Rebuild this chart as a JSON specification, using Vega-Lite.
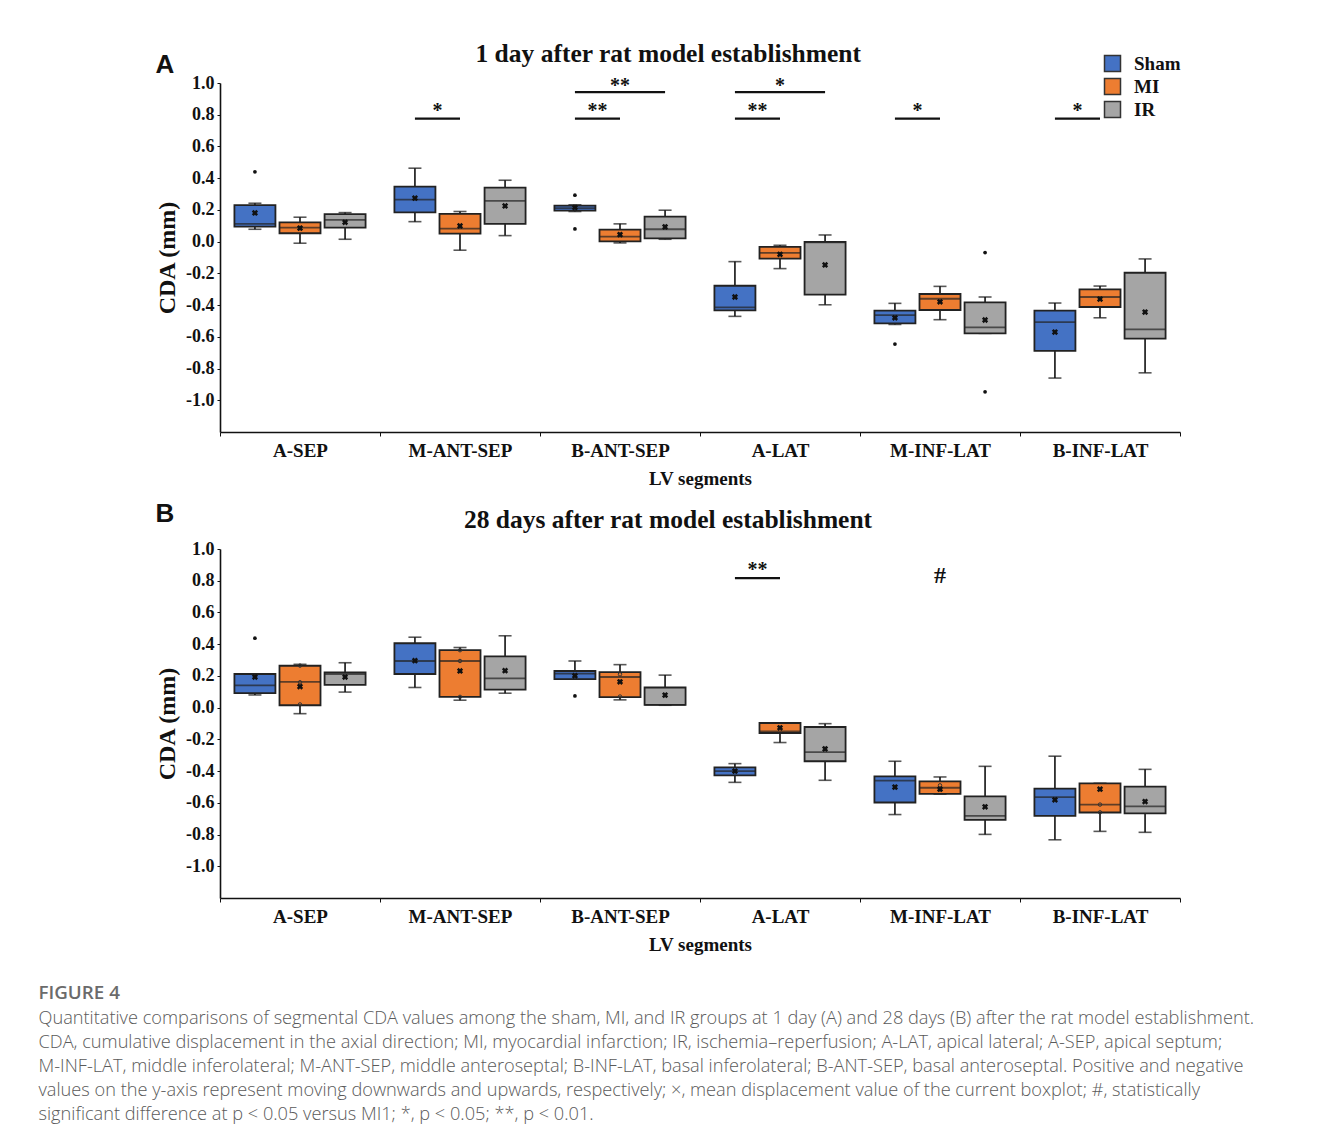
{
  "$schema": "https://vega.github.io/schema/vega-lite/v6.json",
  "background": "white",
  "padding": {"left": 38, "top": 41, "right": 5, "bottom": 5},
  "config": {
    "view": {"stroke": null},
    "axis": {"grid": false},
    "axisY": {"domainColor": "#111", "domainWidth": 1.6, "tickColor": "#111", "tickSize": 3, "labelFont": "Liberation Serif", "labelFontWeight": "bold", "labelFontSize": 18, "labelColor": "#111", "labelPadding": 3, "titleFont": "Liberation Serif", "titleFontWeight": "bold", "titleFontSize": 24, "titleColor": "#111", "titlePadding": 6},
    "axisX": {"tickBand": "extent", "labelAngle": 0, "domainColor": "#111", "domainWidth": 1.6, "tickColor": "#111", "tickSize": 4, "labelFont": "Liberation Serif", "labelFontWeight": "bold", "labelFontSize": 19, "labelColor": "#111", "labelPadding": 5, "titleFont": "Liberation Serif", "titleFontWeight": "bold", "titleFontSize": 19, "titleColor": "#111", "titlePadding": 9}
  },
  "title": {
    "text": "FIGURE 4",
    "subtitle": [
      "Quantitative comparisons of segmental CDA values among the sham, MI, and IR groups at 1 day (A) and 28 days (B) after the rat model establishment.",
      "CDA, cumulative displacement in the axial direction; MI, myocardial infarction; IR, ischemia–reperfusion; A-LAT, apical lateral; A-SEP, apical septum;",
      "M-INF-LAT, middle inferolateral; M-ANT-SEP, middle anteroseptal; B-INF-LAT, basal inferolateral; B-ANT-SEP, basal anteroseptal. Positive and negative",
      "values on the y-axis represent moving downwards and upwards, respectively; ×, mean displacement value of the current boxplot; #, statistically",
      "significant difference at p < 0.05 versus MI1; *, p < 0.05; **, p < 0.01."
    ],
    "orient": "bottom",
    "anchor": "start",
    "frame": "bounds",
    "dx": -117,
    "offset": 30,
    "font": "Open Sans",
    "fontSize": 18.8,
    "fontWeight": 600,
    "color": "#6b6b6b",
    "subtitleFont": "Open Sans",
    "subtitleFontSize": 18.2,
    "subtitleFontWeight": 300,
    "subtitleColor": "#5a5a5a",
    "subtitleLineHeight": 24,
    "subtitlePadding": 7
  },
  "datasets": {
    "boxes": [
      {"p":"A","seg":"A-SEP","g":"Sham","lo":0.078,"q1":0.095,"med":0.112,"q3":0.23,"hi":0.242,"mean":0.181},
      {"p":"A","seg":"A-SEP","g":"MI","lo":-0.01,"q1":0.053,"med":0.088,"q3":0.122,"hi":0.154,"mean":0.085},
      {"p":"A","seg":"A-SEP","g":"IR","lo":0.015,"q1":0.088,"med":0.137,"q3":0.173,"hi":0.183,"mean":0.122},
      {"p":"A","seg":"M-ANT-SEP","g":"Sham","lo":0.126,"q1":0.185,"med":0.265,"q3":0.347,"hi":0.463,"mean":0.274},
      {"p":"A","seg":"M-ANT-SEP","g":"MI","lo":-0.054,"q1":0.05,"med":0.082,"q3":0.175,"hi":0.19,"mean":0.099},
      {"p":"A","seg":"M-ANT-SEP","g":"IR","lo":0.038,"q1":0.112,"med":0.257,"q3":0.341,"hi":0.387,"mean":0.225},
      {"p":"A","seg":"B-ANT-SEP","g":"Sham","lo":0.19,"q1":0.196,"med":0.211,"q3":0.227,"hi":0.232,"mean":0.215},
      {"p":"A","seg":"B-ANT-SEP","g":"MI","lo":-0.008,"q1":0.002,"med":0.032,"q3":0.076,"hi":0.112,"mean":0.044},
      {"p":"A","seg":"B-ANT-SEP","g":"IR","lo":0.015,"q1":0.021,"med":0.078,"q3":0.158,"hi":0.198,"mean":0.093},
      {"p":"A","seg":"A-LAT","g":"Sham","lo":-0.471,"q1":-0.433,"med":-0.414,"q3":-0.278,"hi":-0.126,"mean":-0.349},
      {"p":"A","seg":"A-LAT","g":"MI","lo":-0.17,"q1":-0.107,"med":-0.071,"q3":-0.033,"hi":-0.023,"mean":-0.08},
      {"p":"A","seg":"A-LAT","g":"IR","lo":-0.398,"q1":-0.334,"med":-0.005,"q3":-0.002,"hi":0.042,"mean":-0.147},
      {"p":"A","seg":"M-INF-LAT","g":"Sham","lo":-0.522,"q1":-0.515,"med":-0.463,"q3":-0.435,"hi":-0.389,"mean":-0.48},
      {"p":"A","seg":"M-INF-LAT","g":"MI","lo":-0.492,"q1":-0.431,"med":-0.36,"q3":-0.33,"hi":-0.282,"mean":-0.379},
      {"p":"A","seg":"M-INF-LAT","g":"IR","lo":-0.578,"q1":-0.578,"med":-0.54,"q3":-0.383,"hi":-0.349,"mean":-0.494},
      {"p":"A","seg":"B-INF-LAT","g":"Sham","lo":-0.86,"q1":-0.688,"med":-0.507,"q3":-0.435,"hi":-0.387,"mean":-0.57},
      {"p":"A","seg":"B-INF-LAT","g":"MI","lo":-0.48,"q1":-0.412,"med":-0.349,"q3":-0.301,"hi":-0.28,"mean":-0.362},
      {"p":"A","seg":"B-INF-LAT","g":"IR","lo":-0.827,"q1":-0.612,"med":-0.553,"q3":-0.196,"hi":-0.109,"mean":-0.444},
      {"p":"B","seg":"A-SEP","g":"Sham","lo":0.08,"q1":0.091,"med":0.14,"q3":0.212,"hi":0.212,"mean":0.193},
      {"p":"B","seg":"A-SEP","g":"MI","lo":-0.038,"q1":0.015,"med":0.163,"q3":0.264,"hi":0.273,"mean":0.133},
      {"p":"B","seg":"A-SEP","g":"IR","lo":0.098,"q1":0.144,"med":0.212,"q3":0.222,"hi":0.283,"mean":0.193},
      {"p":"B","seg":"M-ANT-SEP","g":"Sham","lo":0.127,"q1":0.212,"med":0.294,"q3":0.406,"hi":0.444,"mean":0.296},
      {"p":"B","seg":"M-ANT-SEP","g":"MI","lo":0.047,"q1":0.068,"med":0.294,"q3":0.362,"hi":0.379,"mean":0.231},
      {"p":"B","seg":"M-ANT-SEP","g":"IR","lo":0.091,"q1":0.114,"med":0.184,"q3":0.323,"hi":0.453,"mean":0.233},
      {"p":"B","seg":"B-ANT-SEP","g":"Sham","lo":0.18,"q1":0.18,"med":0.214,"q3":0.231,"hi":0.294,"mean":0.201},
      {"p":"B","seg":"B-ANT-SEP","g":"MI","lo":0.049,"q1":0.066,"med":0.193,"q3":0.224,"hi":0.271,"mean":0.163},
      {"p":"B","seg":"B-ANT-SEP","g":"IR","lo":0.015,"q1":0.017,"med":0.017,"q3":0.127,"hi":0.205,"mean":0.079},
      {"p":"B","seg":"A-LAT","g":"Sham","lo":-0.471,"q1":-0.427,"med":-0.4,"q3":-0.376,"hi":-0.353,"mean":-0.4},
      {"p":"B","seg":"A-LAT","g":"MI","lo":-0.22,"q1":-0.16,"med":-0.15,"q3":-0.097,"hi":-0.097,"mean":-0.127},
      {"p":"B","seg":"A-LAT","g":"IR","lo":-0.458,"q1":-0.338,"med":-0.281,"q3":-0.122,"hi":-0.101,"mean":-0.26},
      {"p":"B","seg":"M-INF-LAT","g":"Sham","lo":-0.674,"q1":-0.598,"med":-0.46,"q3":-0.433,"hi":-0.338,"mean":-0.501},
      {"p":"B","seg":"M-INF-LAT","g":"MI","lo":-0.545,"q1":-0.543,"med":-0.505,"q3":-0.465,"hi":-0.437,"mean":-0.514},
      {"p":"B","seg":"M-INF-LAT","g":"IR","lo":-0.799,"q1":-0.708,"med":-0.682,"q3":-0.56,"hi":-0.37,"mean":-0.625},
      {"p":"B","seg":"B-INF-LAT","g":"Sham","lo":-0.833,"q1":-0.682,"med":-0.564,"q3":-0.511,"hi":-0.306,"mean":-0.581},
      {"p":"B","seg":"B-INF-LAT","g":"MI","lo":-0.78,"q1":-0.661,"med":-0.611,"q3":-0.477,"hi":-0.477,"mean":-0.514},
      {"p":"B","seg":"B-INF-LAT","g":"IR","lo":-0.786,"q1":-0.666,"med":-0.623,"q3":-0.498,"hi":-0.389,"mean":-0.592}
    ],
    "pts": [
      {"p":"A","seg":"A-SEP","g":"Sham","k":"out","v":0.44},
      {"p":"A","seg":"B-ANT-SEP","g":"Sham","k":"out","v":0.293},
      {"p":"A","seg":"B-ANT-SEP","g":"Sham","k":"out","v":0.08},
      {"p":"A","seg":"M-INF-LAT","g":"Sham","k":"out","v":-0.646},
      {"p":"A","seg":"M-INF-LAT","g":"IR","k":"out","v":-0.069},
      {"p":"A","seg":"M-INF-LAT","g":"IR","k":"out","v":-0.947},
      {"p":"B","seg":"A-SEP","g":"Sham","k":"out","v":0.438},
      {"p":"B","seg":"B-ANT-SEP","g":"Sham","k":"out","v":0.074},
      {"p":"B","seg":"A-SEP","g":"MI","k":"in","v":0.265},
      {"p":"B","seg":"A-SEP","g":"MI","k":"in","v":0.16},
      {"p":"B","seg":"A-SEP","g":"MI","k":"in","v":0.02},
      {"p":"B","seg":"M-ANT-SEP","g":"MI","k":"in","v":0.362},
      {"p":"B","seg":"M-ANT-SEP","g":"MI","k":"in","v":0.294},
      {"p":"B","seg":"M-ANT-SEP","g":"MI","k":"in","v":0.068},
      {"p":"B","seg":"B-ANT-SEP","g":"MI","k":"in","v":0.21},
      {"p":"B","seg":"B-ANT-SEP","g":"MI","k":"in","v":0.07},
      {"p":"B","seg":"M-INF-LAT","g":"MI","k":"in","v":-0.49},
      {"p":"B","seg":"M-INF-LAT","g":"MI","k":"in","v":-0.515},
      {"p":"B","seg":"B-INF-LAT","g":"MI","k":"in","v":-0.611},
      {"p":"B","seg":"B-INF-LAT","g":"MI","k":"in","v":-0.66}
    ],
    "sigl": [
      {"p":"A","id":"a1","seg":"M-ANT-SEP","g":"Sham","lv":0.775},
      {"p":"A","id":"a1","seg":"M-ANT-SEP","g":"MI","lv":0.775},
      {"p":"A","id":"a2","seg":"B-ANT-SEP","g":"Sham","lv":0.775},
      {"p":"A","id":"a2","seg":"B-ANT-SEP","g":"MI","lv":0.775},
      {"p":"A","id":"a3","seg":"B-ANT-SEP","g":"Sham","lv":0.943},
      {"p":"A","id":"a3","seg":"B-ANT-SEP","g":"IR","lv":0.943},
      {"p":"A","id":"a4","seg":"A-LAT","g":"Sham","lv":0.775},
      {"p":"A","id":"a4","seg":"A-LAT","g":"MI","lv":0.775},
      {"p":"A","id":"a5","seg":"A-LAT","g":"Sham","lv":0.943},
      {"p":"A","id":"a5","seg":"A-LAT","g":"IR","lv":0.943},
      {"p":"A","id":"a6","seg":"M-INF-LAT","g":"Sham","lv":0.775},
      {"p":"A","id":"a6","seg":"M-INF-LAT","g":"MI","lv":0.775},
      {"p":"A","id":"a7","seg":"B-INF-LAT","g":"Sham","lv":0.775},
      {"p":"A","id":"a7","seg":"B-INF-LAT","g":"MI","lv":0.775},
      {"p":"B","id":"b1","seg":"A-LAT","g":"Sham","lv":0.816},
      {"p":"B","id":"b1","seg":"A-LAT","g":"MI","lv":0.816}
    ],
    "sigt": [
      {"p":"A","seg":"M-ANT-SEP","g":"Sham","span":"narrow","lv":0.775,"lab":"*"},
      {"p":"A","seg":"B-ANT-SEP","g":"Sham","span":"narrow","lv":0.775,"lab":"**"},
      {"p":"A","seg":"A-LAT","g":"Sham","span":"narrow","lv":0.775,"lab":"**"},
      {"p":"A","seg":"M-INF-LAT","g":"Sham","span":"narrow","lv":0.775,"lab":"*"},
      {"p":"A","seg":"B-INF-LAT","g":"Sham","span":"narrow","lv":0.775,"lab":"*"},
      {"p":"A","seg":"B-ANT-SEP","g":"MI","span":"wide","lv":0.943,"lab":"**"},
      {"p":"A","seg":"A-LAT","g":"MI","span":"wide","lv":0.943,"lab":"*"},
      {"p":"B","seg":"A-LAT","g":"Sham","span":"narrow","lv":0.816,"lab":"**"},
      {"p":"B","seg":"M-INF-LAT","g":"MI","span":"wide","lv":0.77,"lab":"#"}
    ]
  },
  "resolve": {"scale": {"fill": "independent"}, "legend": {"fill": "independent"}},
  "spacing": 12,
  "vconcat": [
    {
      "title": {"text": "A", "anchor": "start", "frame": "bounds", "font": "Liberation Sans", "fontSize": 26, "fontWeight": "bold", "color": "#111", "offset": -36},
      "resolve": {"scale": {"fill": "independent"}, "legend": {"fill": "independent"}},
      "vconcat": [
        {
          "width": 960,
          "height": 349,
          "title": {"text": "1 day after rat model establishment", "font": "Liberation Serif", "fontSize": 25.5, "fontWeight": "bold", "color": "#111", "anchor": "middle", "frame": "bounds", "offset": -13},
          "encoding": {
            "x": {"field": "seg", "type": "nominal", "sort": ["A-SEP","M-ANT-SEP","B-ANT-SEP","A-LAT","M-INF-LAT","B-INF-LAT"], "scale": {"paddingInner": 0, "paddingOuter": 0}, "axis": {"title": "LV segments"}},
            "xOffset": {"field": "g", "type": "nominal", "sort": ["Sham","MI","IR"], "scale": {"paddingInner": 0.09, "paddingOuter": 0.32}}
          },
          "layer": [
            {"data": {"name": "boxes"}, "transform": [{"filter": "datum.p == 'A'"}],
             "mark": {"type": "rule", "color": "#111", "strokeWidth": 1.6},
             "encoding": {
               "y": {"field": "lo", "type": "quantitative", "scale": {"domain": [-1.2, 1.0], "nice": false, "zero": false}, "axis": {"title": "CDA (mm)", "values": [-1, -0.8, -0.6, -0.4, -0.2, 0, 0.2, 0.4, 0.6, 0.8, 1], "format": ".1f", "labelExpr": "replace(datum.label, '\u2212', '-')"}},
               "y2": {"field": "hi"}
             }},
            {"data": {"name": "boxes"}, "transform": [{"filter": "datum.p == 'A'"}],
             "mark": {"type": "tick", "color": "#111", "size": 13, "thickness": 1.6},
             "encoding": {"y": {"field": "lo", "type": "quantitative", "scale": {"domain": [-1.2, 1.0], "nice": false, "zero": false}, "axis": {"title": "CDA (mm)", "values": [-1, -0.8, -0.6, -0.4, -0.2, 0, 0.2, 0.4, 0.6, 0.8, 1], "format": ".1f", "labelExpr": "replace(datum.label, '\u2212', '-')"}}}},
            {"data": {"name": "boxes"}, "transform": [{"filter": "datum.p == 'A'"}],
             "mark": {"type": "tick", "color": "#111", "size": 13, "thickness": 1.6},
             "encoding": {"y": {"field": "hi", "type": "quantitative", "scale": {"domain": [-1.2, 1.0], "nice": false, "zero": false}, "axis": {"title": "CDA (mm)", "values": [-1, -0.8, -0.6, -0.4, -0.2, 0, 0.2, 0.4, 0.6, 0.8, 1], "format": ".1f", "labelExpr": "replace(datum.label, '\u2212', '-')"}}}},
            {"data": {"name": "boxes"}, "transform": [{"filter": "datum.p == 'A'"}],
             "mark": {"type": "bar", "stroke": "#222", "strokeWidth": 1.8},
             "encoding": {
               "y": {"field": "q1", "type": "quantitative", "scale": {"domain": [-1.2, 1.0], "nice": false, "zero": false}, "axis": {"title": "CDA (mm)", "values": [-1, -0.8, -0.6, -0.4, -0.2, 0, 0.2, 0.4, 0.6, 0.8, 1], "format": ".1f", "labelExpr": "replace(datum.label, '\u2212', '-')"}},
               "y2": {"field": "q3"},
               "fill": {"field": "g", "type": "nominal", "scale": {"domain": ["Sham","MI","IR"], "range": ["#4472C4","#ED7D31","#A5A5A5"]},
                 "legend": {"title": null, "orient": "none", "legendX": 883, "legendY": -29, "padding": 0, "symbolType": "square", "symbolSize": 256, "symbolStrokeColor": "#333", "symbolStrokeWidth": 1.5, "labelFont": "Liberation Serif", "labelFontWeight": "bold", "labelFontSize": 19, "labelColor": "#111", "labelOffset": 12, "rowPadding": 0}}
             }},
            {"data": {"name": "boxes"}, "transform": [{"filter": "datum.p == 'A'"}],
             "mark": {"type": "tick", "color": "#222", "size": 41, "thickness": 1.8},
             "encoding": {"y": {"field": "med", "type": "quantitative", "scale": {"domain": [-1.2, 1.0], "nice": false, "zero": false}, "axis": {"title": "CDA (mm)", "values": [-1, -0.8, -0.6, -0.4, -0.2, 0, 0.2, 0.4, 0.6, 0.8, 1], "format": ".1f", "labelExpr": "replace(datum.label, '\u2212', '-')"}}}},
            {"data": {"name": "boxes"}, "transform": [{"filter": "datum.p == 'A'"}],
             "mark": {"type": "point", "shape": "cross", "angle": 45, "filled": true, "color": "#111", "size": 40, "opacity": 1},
             "encoding": {"y": {"field": "mean", "type": "quantitative", "scale": {"domain": [-1.2, 1.0], "nice": false, "zero": false}, "axis": {"title": "CDA (mm)", "values": [-1, -0.8, -0.6, -0.4, -0.2, 0, 0.2, 0.4, 0.6, 0.8, 1], "format": ".1f", "labelExpr": "replace(datum.label, '\u2212', '-')"}}}},
            {"data": {"name": "pts"}, "transform": [{"filter": "datum.p == 'A' && datum.k == 'out'"}],
             "mark": {"type": "point", "shape": "circle", "filled": true, "color": "#111", "size": 14, "opacity": 1},
             "encoding": {"y": {"field": "v", "type": "quantitative", "scale": {"domain": [-1.2, 1.0], "nice": false, "zero": false}, "axis": {"title": "CDA (mm)", "values": [-1, -0.8, -0.6, -0.4, -0.2, 0, 0.2, 0.4, 0.6, 0.8, 1], "format": ".1f", "labelExpr": "replace(datum.label, '\u2212', '-')"}}}},
            {"data": {"name": "sigl"}, "transform": [{"filter": "datum.p == 'A'"}],
             "mark": {"type": "line", "color": "#111", "strokeWidth": 2.2},
             "encoding": {"y": {"field": "lv", "type": "quantitative", "scale": {"domain": [-1.2, 1.0], "nice": false, "zero": false}, "axis": {"title": "CDA (mm)", "values": [-1, -0.8, -0.6, -0.4, -0.2, 0, 0.2, 0.4, 0.6, 0.8, 1], "format": ".1f", "labelExpr": "replace(datum.label, '\u2212', '-')"}}, "detail": {"field": "id"}}},
            {"data": {"name": "sigt"}, "transform": [{"filter": "datum.p == 'A' && datum.span == 'narrow'"}],
             "mark": {"type": "text", "font": "Liberation Serif", "fontWeight": "bold", "fontSize": 20, "color": "#111", "baseline": "alphabetic", "align": "center", "dx": 22.6, "dy": -2},
             "encoding": {"y": {"field": "lv", "type": "quantitative", "scale": {"domain": [-1.2, 1.0], "nice": false, "zero": false}, "axis": {"title": "CDA (mm)", "values": [-1, -0.8, -0.6, -0.4, -0.2, 0, 0.2, 0.4, 0.6, 0.8, 1], "format": ".1f", "labelExpr": "replace(datum.label, '\u2212', '-')"}}, "text": {"field": "lab"}}},
            {"data": {"name": "sigt"}, "transform": [{"filter": "datum.p == 'A' && datum.span == 'wide'"}],
             "mark": {"type": "text", "font": "Liberation Serif", "fontWeight": "bold", "fontSize": 20, "color": "#111", "baseline": "alphabetic", "align": "center", "dy": 0},
             "encoding": {"y": {"field": "lv", "type": "quantitative", "scale": {"domain": [-1.2, 1.0], "nice": false, "zero": false}, "axis": {"title": "CDA (mm)", "values": [-1, -0.8, -0.6, -0.4, -0.2, 0, 0.2, 0.4, 0.6, 0.8, 1], "format": ".1f", "labelExpr": "replace(datum.label, '\u2212', '-')"}}, "text": {"field": "lab"}}}
          ]
        }
      ]
    },
    {
      "title": {"text": "B", "anchor": "start", "frame": "bounds", "font": "Liberation Sans", "fontSize": 26, "fontWeight": "bold", "color": "#111", "offset": -19},
      "resolve": {"scale": {"fill": "independent"}, "legend": {"fill": "independent"}},
      "vconcat": [
        {
          "width": 960,
          "height": 349,
          "title": {"text": "28 days after rat model establishment", "font": "Liberation Serif", "fontSize": 25.5, "fontWeight": "bold", "color": "#111", "anchor": "middle", "frame": "bounds", "offset": 7},
          "encoding": {
            "x": {"field": "seg", "type": "nominal", "sort": ["A-SEP","M-ANT-SEP","B-ANT-SEP","A-LAT","M-INF-LAT","B-INF-LAT"], "scale": {"paddingInner": 0, "paddingOuter": 0}, "axis": {"title": "LV segments"}},
            "xOffset": {"field": "g", "type": "nominal", "sort": ["Sham","MI","IR"], "scale": {"paddingInner": 0.09, "paddingOuter": 0.32}}
          },
          "layer": [
            {"data": {"name": "boxes"}, "transform": [{"filter": "datum.p == 'B'"}],
             "mark": {"type": "rule", "color": "#111", "strokeWidth": 1.6},
             "encoding": {
               "y": {"field": "lo", "type": "quantitative", "scale": {"domain": [-1.2, 1.0], "nice": false, "zero": false}, "axis": {"title": "CDA (mm)", "values": [-1, -0.8, -0.6, -0.4, -0.2, 0, 0.2, 0.4, 0.6, 0.8, 1], "format": ".1f", "labelExpr": "replace(datum.label, '\u2212', '-')"}},
               "y2": {"field": "hi"}
             }},
            {"data": {"name": "boxes"}, "transform": [{"filter": "datum.p == 'B'"}],
             "mark": {"type": "tick", "color": "#111", "size": 13, "thickness": 1.6},
             "encoding": {"y": {"field": "lo", "type": "quantitative", "scale": {"domain": [-1.2, 1.0], "nice": false, "zero": false}, "axis": {"title": "CDA (mm)", "values": [-1, -0.8, -0.6, -0.4, -0.2, 0, 0.2, 0.4, 0.6, 0.8, 1], "format": ".1f", "labelExpr": "replace(datum.label, '\u2212', '-')"}}}},
            {"data": {"name": "boxes"}, "transform": [{"filter": "datum.p == 'B'"}],
             "mark": {"type": "tick", "color": "#111", "size": 13, "thickness": 1.6},
             "encoding": {"y": {"field": "hi", "type": "quantitative", "scale": {"domain": [-1.2, 1.0], "nice": false, "zero": false}, "axis": {"title": "CDA (mm)", "values": [-1, -0.8, -0.6, -0.4, -0.2, 0, 0.2, 0.4, 0.6, 0.8, 1], "format": ".1f", "labelExpr": "replace(datum.label, '\u2212', '-')"}}}},
            {"data": {"name": "boxes"}, "transform": [{"filter": "datum.p == 'B'"}],
             "mark": {"type": "bar", "stroke": "#222", "strokeWidth": 1.8},
             "encoding": {
               "y": {"field": "q1", "type": "quantitative", "scale": {"domain": [-1.2, 1.0], "nice": false, "zero": false}, "axis": {"title": "CDA (mm)", "values": [-1, -0.8, -0.6, -0.4, -0.2, 0, 0.2, 0.4, 0.6, 0.8, 1], "format": ".1f", "labelExpr": "replace(datum.label, '\u2212', '-')"}},
               "y2": {"field": "q3"},
               "fill": {"field": "g", "type": "nominal", "scale": {"domain": ["Sham","MI","IR"], "range": ["#4472C4","#ED7D31","#A5A5A5"]}, "legend": null}
             }},
            {"data": {"name": "boxes"}, "transform": [{"filter": "datum.p == 'B'"}],
             "mark": {"type": "tick", "color": "#222", "size": 41, "thickness": 1.8},
             "encoding": {"y": {"field": "med", "type": "quantitative", "scale": {"domain": [-1.2, 1.0], "nice": false, "zero": false}, "axis": {"title": "CDA (mm)", "values": [-1, -0.8, -0.6, -0.4, -0.2, 0, 0.2, 0.4, 0.6, 0.8, 1], "format": ".1f", "labelExpr": "replace(datum.label, '\u2212', '-')"}}}},
            {"data": {"name": "pts"}, "transform": [{"filter": "datum.p == 'B' && datum.k == 'in'"}],
             "mark": {"type": "point", "shape": "circle", "filled": false, "color": "#333", "strokeWidth": 1, "size": 12, "opacity": 1},
             "encoding": {"y": {"field": "v", "type": "quantitative", "scale": {"domain": [-1.2, 1.0], "nice": false, "zero": false}, "axis": {"title": "CDA (mm)", "values": [-1, -0.8, -0.6, -0.4, -0.2, 0, 0.2, 0.4, 0.6, 0.8, 1], "format": ".1f", "labelExpr": "replace(datum.label, '\u2212', '-')"}}}},
            {"data": {"name": "boxes"}, "transform": [{"filter": "datum.p == 'B'"}],
             "mark": {"type": "point", "shape": "cross", "angle": 45, "filled": true, "color": "#111", "size": 40, "opacity": 1},
             "encoding": {"y": {"field": "mean", "type": "quantitative", "scale": {"domain": [-1.2, 1.0], "nice": false, "zero": false}, "axis": {"title": "CDA (mm)", "values": [-1, -0.8, -0.6, -0.4, -0.2, 0, 0.2, 0.4, 0.6, 0.8, 1], "format": ".1f", "labelExpr": "replace(datum.label, '\u2212', '-')"}}}},
            {"data": {"name": "pts"}, "transform": [{"filter": "datum.p == 'B' && datum.k == 'out'"}],
             "mark": {"type": "point", "shape": "circle", "filled": true, "color": "#111", "size": 14, "opacity": 1},
             "encoding": {"y": {"field": "v", "type": "quantitative", "scale": {"domain": [-1.2, 1.0], "nice": false, "zero": false}, "axis": {"title": "CDA (mm)", "values": [-1, -0.8, -0.6, -0.4, -0.2, 0, 0.2, 0.4, 0.6, 0.8, 1], "format": ".1f", "labelExpr": "replace(datum.label, '\u2212', '-')"}}}},
            {"data": {"name": "sigl"}, "transform": [{"filter": "datum.p == 'B'"}],
             "mark": {"type": "line", "color": "#111", "strokeWidth": 2.2},
             "encoding": {"y": {"field": "lv", "type": "quantitative", "scale": {"domain": [-1.2, 1.0], "nice": false, "zero": false}, "axis": {"title": "CDA (mm)", "values": [-1, -0.8, -0.6, -0.4, -0.2, 0, 0.2, 0.4, 0.6, 0.8, 1], "format": ".1f", "labelExpr": "replace(datum.label, '\u2212', '-')"}}, "detail": {"field": "id"}}},
            {"data": {"name": "sigt"}, "transform": [{"filter": "datum.p == 'B' && datum.span == 'narrow'"}],
             "mark": {"type": "text", "font": "Liberation Serif", "fontWeight": "bold", "fontSize": 20, "color": "#111", "baseline": "alphabetic", "align": "center", "dx": 22.6, "dy": -2},
             "encoding": {"y": {"field": "lv", "type": "quantitative", "scale": {"domain": [-1.2, 1.0], "nice": false, "zero": false}, "axis": {"title": "CDA (mm)", "values": [-1, -0.8, -0.6, -0.4, -0.2, 0, 0.2, 0.4, 0.6, 0.8, 1], "format": ".1f", "labelExpr": "replace(datum.label, '\u2212', '-')"}}, "text": {"field": "lab"}}},
            {"data": {"name": "sigt"}, "transform": [{"filter": "datum.p == 'B' && datum.span == 'wide'"}],
             "mark": {"type": "text", "font": "Liberation Serif", "fontWeight": "bold", "fontSize": 24, "color": "#111", "baseline": "alphabetic", "align": "center", "dy": -2},
             "encoding": {"y": {"field": "lv", "type": "quantitative", "scale": {"domain": [-1.2, 1.0], "nice": false, "zero": false}, "axis": {"title": "CDA (mm)", "values": [-1, -0.8, -0.6, -0.4, -0.2, 0, 0.2, 0.4, 0.6, 0.8, 1], "format": ".1f", "labelExpr": "replace(datum.label, '\u2212', '-')"}}, "text": {"field": "lab"}}}
          ]
        }
      ]
    }
  ]
}
